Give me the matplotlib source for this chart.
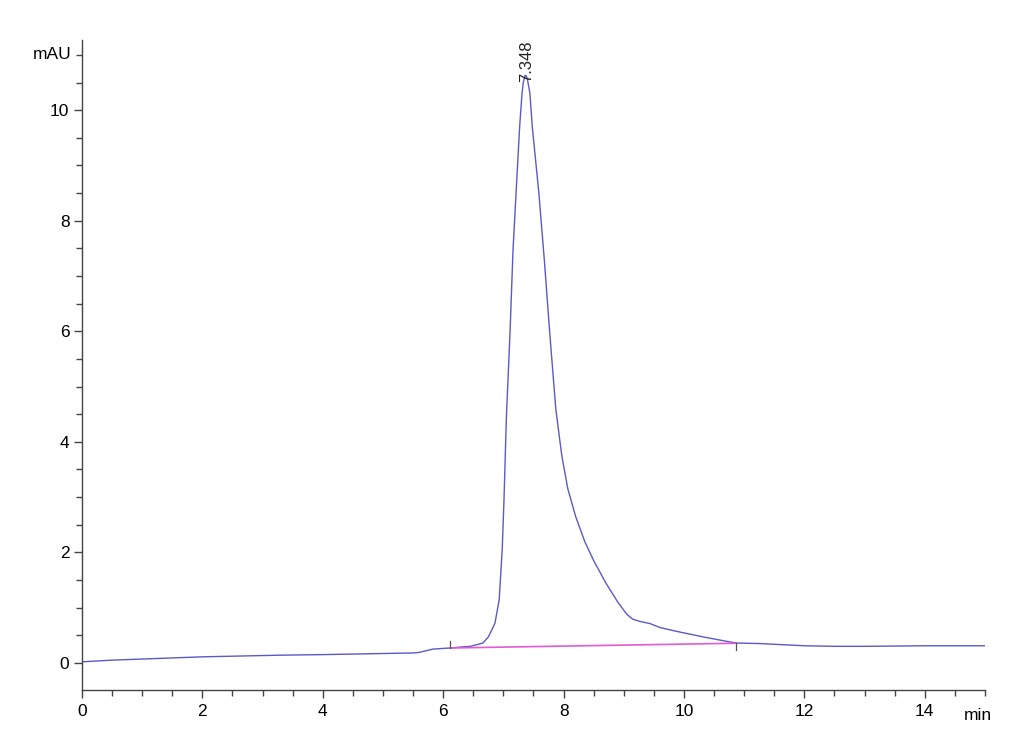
import matplotlib
matplotlib.use("Agg")
import matplotlib.pyplot as plt
from matplotlib.ticker import MultipleLocator, FixedLocator

# Data
time_min = [0.0, 0.5, 1.0, 2.0, 3.3, 4.0, 5.0, 5.5, 5.6, 5.83, 6.11, 6.45, 6.56,
            6.66, 6.75, 6.80, 6.86, 6.93, 6.98, 7.01, 7.05, 7.11, 7.16, 7.21,
            7.27, 7.31, 7.33, 7.36, 7.38, 7.40, 7.44, 7.48, 7.59, 7.68, 7.77,
            7.87, 7.97, 8.07, 8.20, 8.35, 8.50, 8.70, 8.90, 9.05, 9.15, 9.27,
            9.44, 9.60, 9.88, 10.32, 10.71, 10.87, 11.26, 12.0, 12.5, 13.0,
            14.0, 15.0]
signal_mau = [0.02, 0.05, 0.07, 0.11, 0.14, 0.15, 0.17, 0.18, 0.19, 0.25, 0.27,
              0.30, 0.33, 0.36, 0.47, 0.58, 0.72, 1.14, 2.04, 2.95, 4.45, 5.97,
              7.47, 8.49, 9.70, 10.31, 10.50, 10.63, 10.62, 10.55, 10.31, 9.70,
              8.49, 7.29, 5.97, 4.60, 3.75, 3.15, 2.65, 2.20, 1.85, 1.45, 1.10,
              0.88, 0.79, 0.75, 0.71, 0.64, 0.57, 0.47, 0.39, 0.36, 0.35, 0.31,
              0.30, 0.30, 0.31, 0.31]
baseline_t = [6.11, 10.87]
baseline_y = [0.27, 0.356]
peak_rt = 7.348
peak_height = 10.63
peak_label = "7.348"
x_ticks = [0, 2, 4, 6, 8, 10, 12, 14]
y_ticks = [0, 2, 4, 6, 8, 10]

plt.rcParams['font.family'] = ['Liberation Sans', 'DejaVu Sans']

fig = plt.figure(figsize=(10.3, 7.55), dpi=100)
ax = fig.add_axes([0.0796, 0.0861, 0.8767, 0.861])

ax.plot(time_min, signal_mau, color='#5a5ac8', lw=1.0)
ax.plot(baseline_t, baseline_y, color='#e25ad6', lw=1.2)
# integration start/end markers
ax.plot([baseline_t[0]] * 2, [baseline_y[0], baseline_y[0] + 0.13], color='#555555', lw=0.9)
ax.plot([baseline_t[1]] * 2, [baseline_y[1], baseline_y[1] - 0.13], color='#555555', lw=0.9)

ax.text(peak_rt + 0.04, peak_height - 0.12, peak_label, rotation=90, ha='center', va='bottom',
        fontsize=12, color='#222222')

ax.set_xlim(0, 15)
ax.set_ylim(-0.49, 11.27)
for s in ['top', 'right']:
    ax.spines[s].set_visible(False)
for s in ['left', 'bottom']:
    ax.spines[s].set_color('#444444')
    ax.spines[s].set_linewidth(1.0)

ax.xaxis.set_major_locator(FixedLocator(x_ticks))
ax.xaxis.set_minor_locator(MultipleLocator(0.5))
ax.yaxis.set_major_locator(FixedLocator(y_ticks))
ax.yaxis.set_minor_locator(MultipleLocator(0.5))
ax.tick_params(which='major', length=6, width=1.0, color='#444444', labelsize=12.5, pad=3)
ax.tick_params(which='minor', length=4, width=1.0, color='#444444')
ax.tick_params(axis='x', pad=4)

ax.text(-0.012, 11.0, 'mAU', transform=ax.get_yaxis_transform(), ha='right', va='center',
        fontsize=12.5)
ax.text(14.65, -0.028, 'min', transform=ax.get_xaxis_transform(), ha='left', va='top',
        fontsize=12.5)

fig.savefig('out.png', dpi=100, facecolor='white')
